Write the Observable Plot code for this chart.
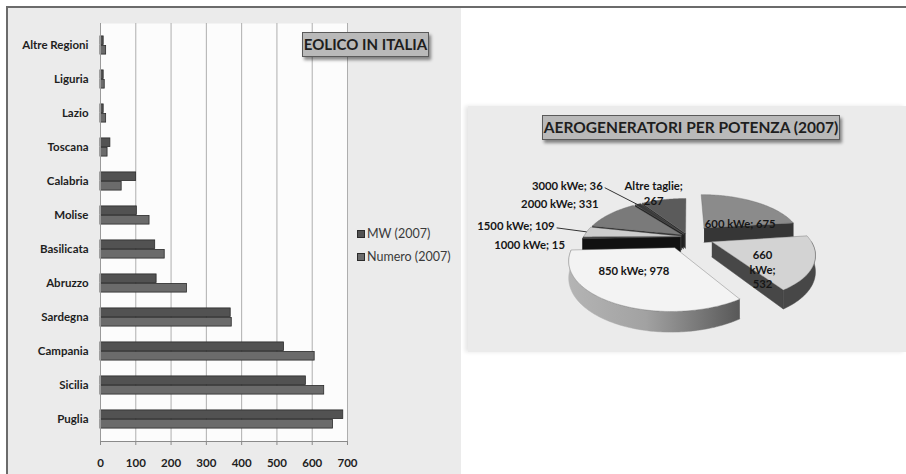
<!DOCTYPE html>
<html>
<head>
<meta charset="utf-8">
<script src="https://cdn.jsdelivr.net/npm/d3@7"></script>
<script src="https://cdn.jsdelivr.net/npm/@observablehq/plot@0.6"></script>
<style>
  body { margin: 0; background: #fff; font-family: Lato, "Open Sans", sans-serif; }
  #page { position: relative; width: 906px; height: 474px; overflow: hidden; background: #fff; }
  .abs { position: absolute; }
  #rule-top { left: 6px; top: 6px; width: 900px; height: 2px; background: #6b6b6b; }
  #rule-left { left: 6px; top: 6px; width: 2px; height: 468px; background: #6b6b6b; }
  #bar-panel { left: 8px; top: 8px; width: 453px; height: 466px; background: #ebebeb; }
  #pie-panel { left: 468px; top: 106px; width: 438px; height: 246px; background: #ebebeb;
               box-shadow: -3px 0 4px rgba(0,0,0,0.10); }
  .title-box { box-sizing: border-box; background: #b9b9b9; border: 1px solid #5a5a5a;
               box-shadow: 2px 3px 3px rgba(0,0,0,0.45); color: #1e1e1e; font-weight: bold;
               text-align: center; white-space: nowrap; }
  #bar-title { left: 302px; top: 32px; width: 127px; height: 25px; font-size: 15px; line-height: 23px; }
  #pie-title { left: 542px; top: 115px; width: 298px; height: 25px; font-size: 15.5px; line-height: 23px; }
  .legend { left: 357px; font-size: 12.5px; color: #3a3a3a; display: flex; align-items: center; white-space: nowrap; }
  .legend i { display: inline-block; width: 6px; height: 6px; border: 1px solid #2b2b2b; margin-right: 2px; }
  #bar-chart { left: 8px; top: 8px; width: 453px; }
  #pie-chart { left: 468px; top: 106px; width: 438px; }
</style>
</head>
<body>
<div id="page">
  <div id="bar-panel" class="abs"></div>
  <div id="pie-panel" class="abs"></div>
  <div id="rule-top" class="abs"></div>
  <div id="rule-left" class="abs"></div>
  <div id="bar-chart" class="abs"></div>
  <div id="pie-chart" class="abs"></div>
  <div id="bar-title" class="abs title-box"></div>
  <div id="pie-title" class="abs title-box"></div>
  <div id="legend-0" class="abs legend" style="top:226px"></div>
  <div id="legend-1" class="abs legend" style="top:249px"></div>
</div>
<script>
// ---- Data: wind power in Italy, 2007 ----
const barTitle = "EOLICO IN ITALIA";
const regions = ["Altre Regioni", "Liguria", "Lazio", "Toscana", "Calabria", "Molise",
                 "Basilicata", "Abruzzo", "Sardegna", "Campania", "Sicilia", "Puglia"];
const mwValues     = [9, 9, 9, 28, 101, 103, 155, 159, 369, 520, 582, 688];
const numeroValues = [16, 12, 16, 20, 60, 139, 182, 245, 372, 607, 634, 659];
const seriesNames = ["MW (2007)", "Numero (2007)"];
const xTicks = [0, 100, 200, 300, 400, 500, 600, 700];

const pieTitle = "AEROGENERATORI PER POTENZA (2007)";
const pieNames  = ["600 kWe", "660 kWe", "850 kWe", "1000 kWe", "1500 kWe", "2000 kWe", "3000 kWe", "Altre taglie"];
const pieValues = [675, 532, 978, 15, 109, 331, 36, 267];

// ---- Styling ----
const seriesFill = ["#525252", "#6b6b6b"];
const barStroke = "#2b2b2b";
const axisFont = {fontFamily: "Lato, 'Open Sans', sans-serif", fontSize: "11.5px", fontWeight: "bold"};

document.getElementById("bar-title").textContent = barTitle;
document.getElementById("pie-title").textContent = pieTitle;
seriesNames.forEach((name, i) => {
  const el = document.getElementById("legend-" + i);
  el.innerHTML = `<i style="background:${seriesFill[i]}"></i>`;
  el.appendChild(document.createTextNode(name));
});

// ---- Horizontal grouped bar chart ----
const W1 = 453, H1 = 466;
const M1 = {top: 15, right: 114, bottom: 33, left: 92};
const step = (H1 - M1.top - M1.bottom) / regions.length;
const barH = 9.5;
const rows = regions.map((region, i) => ({region, mw: mwValues[i], numero: numeroValues[i]}));

const barChart = Plot.plot({
  width: W1, height: H1,
  marginTop: M1.top, marginRight: M1.right, marginBottom: M1.bottom, marginLeft: M1.left,
  x: {domain: [0, 700]},
  y: {domain: regions, padding: 0},
  style: {background: "transparent", ...axisFont, color: "#1e1e1e"},
  marks: [
    Plot.frame({fill: "#fcfcfc", stroke: "none"}),
    Plot.gridX(xTicks.slice(1), {stroke: "#aeaeae", strokeOpacity: 1}),
    Plot.barX(rows, {y: "region", x: "mw", fill: seriesFill[0], stroke: barStroke, strokeWidth: 0.8,
                     insetTop: step / 2 - barH, insetBottom: step / 2}),
    Plot.barX(rows, {y: "region", x: "numero", fill: seriesFill[1], stroke: barStroke, strokeWidth: 0.8,
                     insetTop: step / 2, insetBottom: step / 2 - barH}),
    Plot.ruleX([0], {stroke: "#9a9a9a"}),
    Plot.frame({anchor: "bottom", stroke: "#8a8a8a"}),
    Plot.axisX(xTicks, {tickSize: 4, tickPadding: 13, stroke: "#8a8a8a", fill: "#1e1e1e", label: null}),
    Plot.axisY({tickSize: 0, tickPadding: 12, fill: "#1e1e1e", label: null})
  ]
});
document.getElementById("bar-chart").appendChild(barChart);

// ---- Exploded 3D pie ----
const W2 = 438, H2 = 246;
const cx = 219, cy = 130, rx = 97, ry = 44;   // ellipse of the top face
const persp = 0.22;                            // perspective strength (front larger than back)
const depth = 15 / ry;                         // slab thickness in y units
const explode = {"600 kWe": 0.27, "660 kWe": 0.27, "850 kWe": 0.27};
const topFill  = {"600 kWe": "#8b8b8b", "660 kWe": "#d3d3d3", "850 kWe": "#f3f3f3", "1000 kWe": "#1e1e1e",
                  "1500 kWe": "#cdcdcd", "2000 kWe": "#7a7a7a", "3000 kWe": "#3a3a3a", "Altre taglie": "#5b5b5b"};
const sideFill = {"600 kWe": "#363636", "660 kWe": "#474747", "850 kWe": "url(#side850)", "1000 kWe": "#111111",
                  "1500 kWe": "#8a8a8a", "2000 kWe": "#2c2c2c", "3000 kWe": "#1f1f1f", "Altre taglie": "#2a2a2a"};

const arcs = d3.pie().sort(null).value((d, i) => pieValues[i])(pieNames);

function project(X, Z, H) {
  const s = 1 / (1 - persp * Z);
  return {u: X * s, v: (Z + H * depth) * s, z: Z};
}

const walls = [];
const tops = [];
const geo = {};
arcs.forEach((a) => {
  const name = a.data;
  const a0 = a.startAngle, a1 = a.endAngle, mid = (a0 + a1) / 2;
  const e = explode[name] ?? 0.07;
  const ex = e * Math.sin(mid), ez = -e * Math.cos(mid);
  const pt = (t, r, H) => project(ex + r * Math.sin(t), ez - r * Math.cos(t), H);
  const arcPts = (t0, t1, H) => {
    const n = Math.max(2, Math.ceil((t1 - t0) / (Math.PI / 180)));
    return d3.range(n + 1).map(k => pt(t0 + (t1 - t0) * k / n, 1, H));
  };
  geo[name] = {pt, mid};
  // top face
  tops.push({name, pts: [pt(0, 0, 0), ...arcPts(a0, a1, 0), pt(0, 0, 0)]});
  // outer wall, only the part facing the viewer
  const lo = Math.max(a0, Math.PI / 2), hi = Math.min(a1, 1.5 * Math.PI);
  if (lo < hi) walls.push({name, pts: [...arcPts(lo, hi, 0), ...arcPts(lo, hi, 1).reverse()]});
  // radial cut faces
  if (Math.sin(a0) < 0) walls.push({name, pts: [pt(0, 0, 0), pt(a0, 1, 0), pt(a0, 1, 1), pt(0, 0, 1)]});
  if (Math.sin(a1) > 1e-9) walls.push({name, pts: [pt(0, 0, 0), pt(a1, 1, 0), pt(a1, 1, 1), pt(0, 0, 1)]});
});
walls.forEach(w => w.key = d3.mean(w.pts, p => p.z));
walls.sort((p, q) => p.key - q.key);

// label placement around each slice (offsets in pixels)
const labelLayout = {
  "600 kWe":      {r: 0.5,  dx: 9,   dy: 9,   anchor: "middle"},
  "660 kWe":      {r: 0.55, dx: -3,  dy: 16,  anchor: "middle", wrap: "words"},
  "850 kWe":      {r: 0.55, dx: -10, dy: -4,  anchor: "middle"},
  "1000 kWe":     {r: 1.0,  dx: -18, dy: 7,   anchor: "end"},
  "1500 kWe":     {r: 1.0,  dx: -32, dy: -5,  anchor: "end", leader: true},
  "2000 kWe":     {r: 1.15, dx: -2,  dy: -7,  anchor: "end"},
  "3000 kWe":     {r: 0.9,  dx: -39, dy: -20, anchor: "end", leader: true},
  "Altre taglie": {r: 1.0,  dx: -10, dy: -7,  anchor: "middle", wrap: "value"}
};
const labels = [], leaders = [];
pieNames.forEach((name, i) => {
  const L = labelLayout[name];
  const g = geo[name];
  const p = g.pt(g.mid, L.r, 0);
  let text = `${name}; ${pieValues[i]}`;
  if (L.wrap === "words") text = text.replace(/ /g, "\n");
  if (L.wrap === "value") text = `${name};\n${pieValues[i]}`;
  const lx = p.u + L.dx / rx, ly = p.v + L.dy / ry;
  labels.push({text, u: lx, v: ly, anchor: L.anchor});
  if (L.leader) leaders.push({u1: lx + 2 / rx, v1: ly + 1 / ry, u2: p.u, v2: p.v});
});

const pieMarks = [
  ...walls.map(w => Plot.line(w.pts, {x: "u", y: "v", fill: sideFill[w.name], stroke: sideFill[w.name], strokeWidth: 0.5})),
  ...tops.map(t => Plot.line(t.pts, {x: "u", y: "v", fill: topFill[t.name], stroke: "#6a6a6a", strokeWidth: 0.4})),
  Plot.link(leaders, {x1: "u1", y1: "v1", x2: "u2", y2: "v2", stroke: "#333", strokeWidth: 1}),
  Plot.text(labels.filter(d => d.anchor === "middle"), {x: "u", y: "v", text: "text", textAnchor: "middle", fill: "#161616", lineHeight: 1.3}),
  Plot.text(labels.filter(d => d.anchor === "end"), {x: "u", y: "v", text: "text", textAnchor: "end", fill: "#161616"})
];

const pieChart = Plot.plot({
  width: W2, height: H2, margin: 0,
  x: {domain: [-1, 1], range: [cx - rx, cx + rx], axis: null},
  y: {domain: [-1, 1], range: [cy - ry, cy + ry], axis: null},
  style: {background: "transparent", overflow: "visible", ...axisFont, fontSize: "11.3px"},
  marks: pieMarks
});
// side shading of the front slice
const defs = d3.select(pieChart).insert("defs", ":first-child");
const grad = defs.append("linearGradient").attr("id", "side850").attr("x1", 0).attr("x2", 1).attr("y1", 0).attr("y2", 0);
[["0%", "#b4b4b4"], ["45%", "#a2a2a2"], ["100%", "#585858"]].forEach(([o, c]) =>
  grad.append("stop").attr("offset", o).attr("stop-color", c));
document.getElementById("pie-chart").appendChild(pieChart);
</script>
</body>
</html>
